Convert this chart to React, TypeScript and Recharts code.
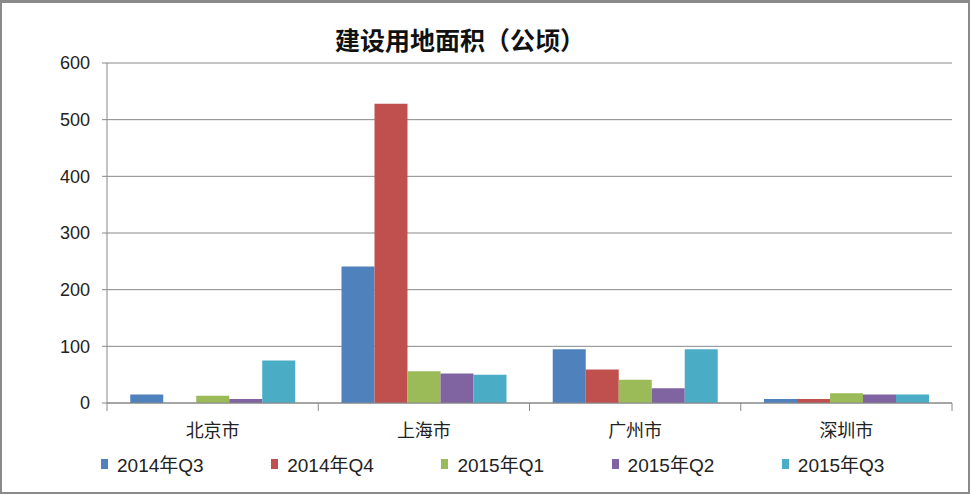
import React from 'react';
import { Bar, BarChart, CartesianGrid, Legend, XAxis, YAxis } from 'recharts';

const cities = ['北京市', '上海市', '广州市', '深圳市'];
const q3_2014 = [15, 241, 95, 7];
const q4_2014 = [0, 528, 59, 7];
const q1_2015 = [13, 56, 41, 17];
const q2_2015 = [7, 52, 26, 15];
const q3_2015 = [75, 50, 95, 15];
const yTicks = [0, 100, 200, 300, 400, 500, 600];

const SERIES = [
  { key: 'q3_2014', name: '2014年Q3', color: '#4F81BD', values: q3_2014 },
  { key: 'q4_2014', name: '2014年Q4', color: '#C0504D', values: q4_2014 },
  { key: 'q1_2015', name: '2015年Q1', color: '#9BBB59', values: q1_2015 },
  { key: 'q2_2015', name: '2015年Q2', color: '#8064A2', values: q2_2015 },
  { key: 'q3_2015', name: '2015年Q3', color: '#4BACC6', values: q3_2015 },
];

const data = cities.map((city, i) => {
  const row: { [k: string]: string | number } = { city };
  SERIES.forEach(s => { row[s.key] = s.values[i]; });
  return row;
});

const W = 970;
const H = 494;
const LEFT = 107;
const RIGHT = 18;
const HALF_BAND = (W - LEFT - RIGHT) / cities.length / 2;
const NARROW = '"Liberation Sans Narrow", "Liberation Sans", Arial, sans-serif';
const CJK = '"Noto Sans CJK SC", "Noto Sans", sans-serif';

const CityTick = (props: any) => {
  const { x, y, payload, index } = props;
  const last = index === cities.length - 1;
  return (
    <g>
      <line x1={x - HALF_BAND} y1={y - 8} x2={x - HALF_BAND} y2={y} stroke="#888" />
      {last && <line x1={x + HALF_BAND} y1={y - 8} x2={x + HALF_BAND} y2={y} stroke="#888" />}
      <text x={x} y={y + 26} textAnchor="middle" fontFamily={CJK} fontSize={18} fill="#222">
        {payload.value}
      </text>
    </g>
  );
};

const LegendContent = () => (
  <div style={{ display: 'flex', paddingLeft: 101, paddingTop: 7 }}>
    {SERIES.map(s => (
      <div key={s.key} style={{ width: 173.5, display: 'flex', alignItems: 'center' }}>
        <span style={{ width: 7, height: 10, background: s.color, marginRight: 9, display: 'inline-block' }} />
        <span style={{ fontFamily: `${NARROW}, ${CJK}`, fontSize: 19, color: '#222' }}>{s.name}</span>
      </div>
    ))}
  </div>
);

export default function App() {
  return (
    <div style={{ position: 'absolute', left: 0, top: 0, width: W, height: H, background: '#fff' }}>
      <div
        style={{
          position: 'absolute', left: 0, top: 0, width: '100%', textAlign: 'center',
          paddingTop: 21, fontFamily: CJK, fontSize: 25, fontWeight: 600, color: '#111',
          marginLeft: -25,
        }}
      >
        建设用地面积（公顷）
      </div>
      <div style={{ position: 'absolute', left: 0, top: 0 }}>
        <BarChart
          width={W}
          height={H}
          data={data}
          margin={{ top: 63, right: RIGHT, left: 0, bottom: 0 }}
          barCategoryGap="11%"
          barGap={0}
        >
          <CartesianGrid vertical={false} stroke="#888" strokeWidth={1} />
          <YAxis
            width={LEFT}
            domain={[0, 600]}
            ticks={yTicks}
            interval={0}
            axisLine={{ stroke: '#888' }}
            tickLine={{ stroke: '#888' }}
            tickSize={5}
            tickMargin={12}
            tick={{ fontFamily: NARROW, fontSize: 18, fill: '#222' }}
          />
          <XAxis
            dataKey="city"
            height={40}
            axisLine={{ stroke: '#888' }}
            tickLine={false}
            tick={<CityTick />}
            interval={0}
          />
          <Legend verticalAlign="bottom" height={51} content={<LegendContent />} />
          {SERIES.map(s => (
            <Bar key={s.key} dataKey={s.key} name={s.name} fill={s.color} isAnimationActive={false} />
          ))}
        </BarChart>
      </div>
      <div
        style={{
          position: 'absolute', left: 0, top: 0, width: W, height: H, boxSizing: 'border-box',
          border: '2px solid #8a8a8a', borderTopWidth: 3, pointerEvents: 'none',
        }}
      />
    </div>
  );
}
